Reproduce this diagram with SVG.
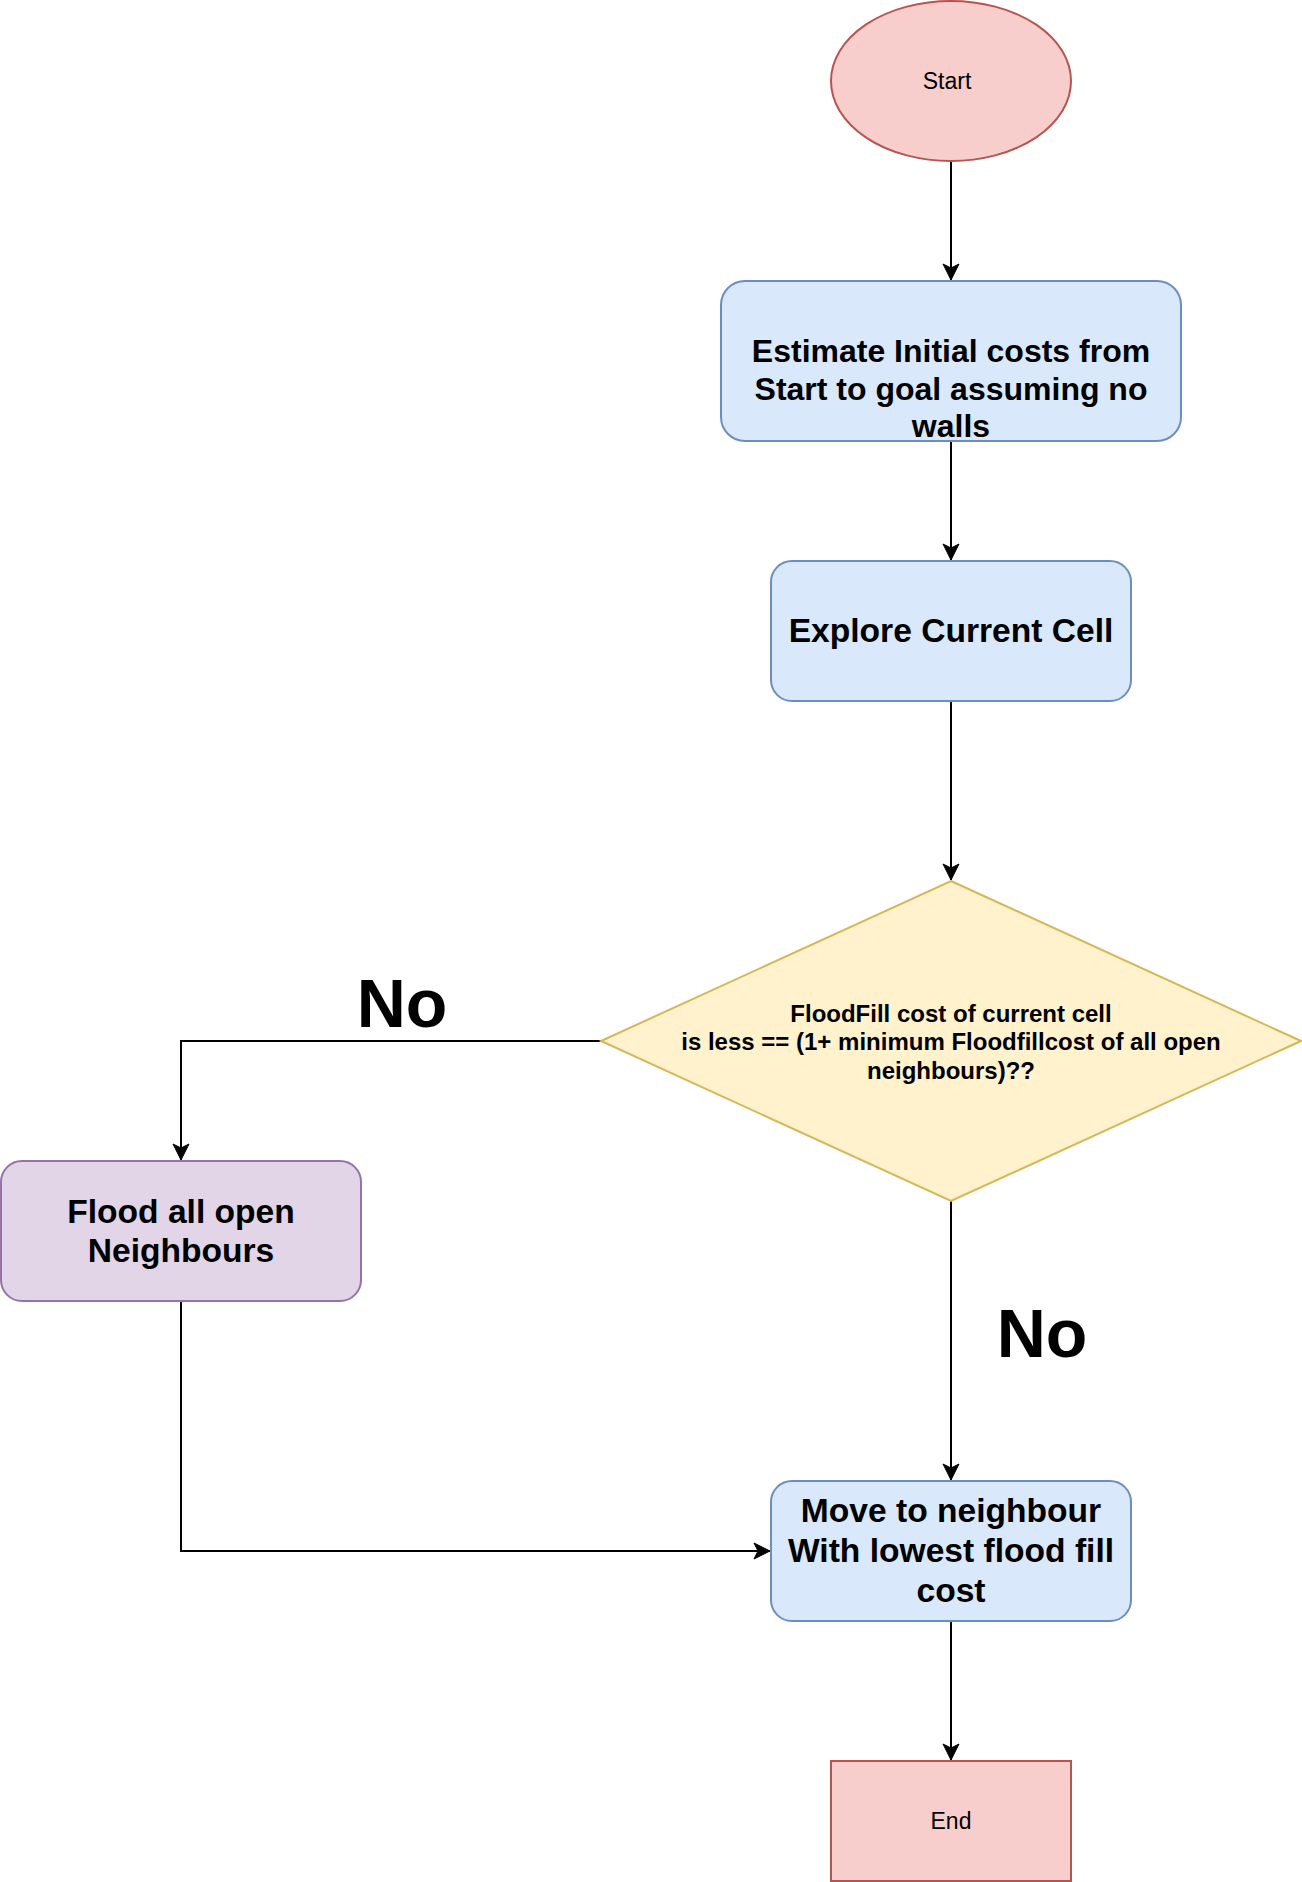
<svg xmlns="http://www.w3.org/2000/svg" width="1302" height="1882" viewBox="0 0 1302 1882">
<style>
  .t { font-family: "Liberation Sans", Arial, Helvetica, sans-serif; fill: #000000; text-anchor: middle; }
  .b { font-weight: bold; }
  .edge { fill: none; stroke: #000000; stroke-width: 2; }
  .red { fill: #f8cecc; stroke: #b85450; stroke-width: 2; }
  .blue { fill: #dae8fc; stroke: #6c8ebf; stroke-width: 2; }
  .yellow { fill: #fff2cc; stroke: #d6b656; stroke-width: 2; }
  .purple { fill: #e1d5e7; stroke: #9673a6; stroke-width: 2; }
</style>
<defs>
  <marker id="arrow" viewBox="0 0 18 18" refX="17" refY="9" markerWidth="18" markerHeight="18" markerUnits="userSpaceOnUse" orient="auto">
    <path d="M17,9 L1,1 L5,9 L1,17 Z" fill="#000000" stroke="#000000" stroke-width="1"/>
  </marker>
</defs>
<rect width="1302" height="1882" fill="#ffffff"/>

<g id="connectors">
  <path class="edge" d="M951,161 L951,280" marker-end="url(#arrow)"/>
  <path class="edge" d="M951,441 L951,560" marker-end="url(#arrow)"/>
  <path class="edge" d="M951,701 L951,880" marker-end="url(#arrow)"/>
  <path class="edge" d="M601,1041 L181,1041 L181,1160" marker-end="url(#arrow)"/>
  <path class="edge" d="M951,1201 L951,1480" marker-end="url(#arrow)"/>
  <path class="edge" d="M181,1301 L181,1551 L770,1551" marker-end="url(#arrow)"/>
  <path class="edge" d="M951,1621 L951,1760" marker-end="url(#arrow)"/>
  <text class="t b" x="402" y="1027" font-size="68">No</text>
  <text class="t b" x="1042" y="1357" font-size="68">No</text>
</g>

<g id="start">
  <ellipse class="red" cx="951" cy="81" rx="120" ry="80"/>
  <text class="t" x="947" y="89" font-size="23">Start</text>
</g>

<g id="estimate">
  <rect class="blue" x="721" y="281" width="460" height="160" rx="24" ry="24"/>
  <text class="t b" x="951" y="362" font-size="32">Estimate Initial costs from</text>
  <text class="t b" x="951" y="399.5" font-size="32">Start to goal assuming no</text>
  <text class="t b" x="951" y="437" font-size="32">walls</text>
</g>

<g id="explore">
  <rect class="blue" x="771" y="561" width="360" height="140" rx="21" ry="21"/>
  <text class="t b" x="951" y="642" font-size="33.6">Explore Current Cell</text>
</g>

<g id="decision">
  <path class="yellow" d="M951,881 L1301,1041 L951,1201 L601,1041 Z"/>
  <text class="t b" x="951" y="1021.5" font-size="24">FloodFill cost of current cell</text>
  <text class="t b" x="951" y="1050.3" font-size="24">is less == (1+ minimum Floodfillcost of all open</text>
  <text class="t b" x="951" y="1079.1" font-size="24">neighbours)??</text>
</g>

<g id="flood">
  <rect class="purple" x="1" y="1161" width="360" height="140" rx="21" ry="21"/>
  <text class="t b" x="181" y="1223" font-size="33.6">Flood all open</text>
  <text class="t b" x="181" y="1262" font-size="33.6">Neighbours</text>
</g>

<g id="move">
  <rect class="blue" x="771" y="1481" width="360" height="140" rx="21" ry="21"/>
  <text class="t b" x="951" y="1522" font-size="33.6">Move to neighbour</text>
  <text class="t b" x="951" y="1562" font-size="33.6">With lowest flood fill</text>
  <text class="t b" x="951" y="1602" font-size="33.6">cost</text>
</g>

<g id="end">
  <rect class="red" x="831" y="1761" width="240" height="120"/>
  <text class="t" x="951" y="1829" font-size="23">End</text>
</g>
</svg>
